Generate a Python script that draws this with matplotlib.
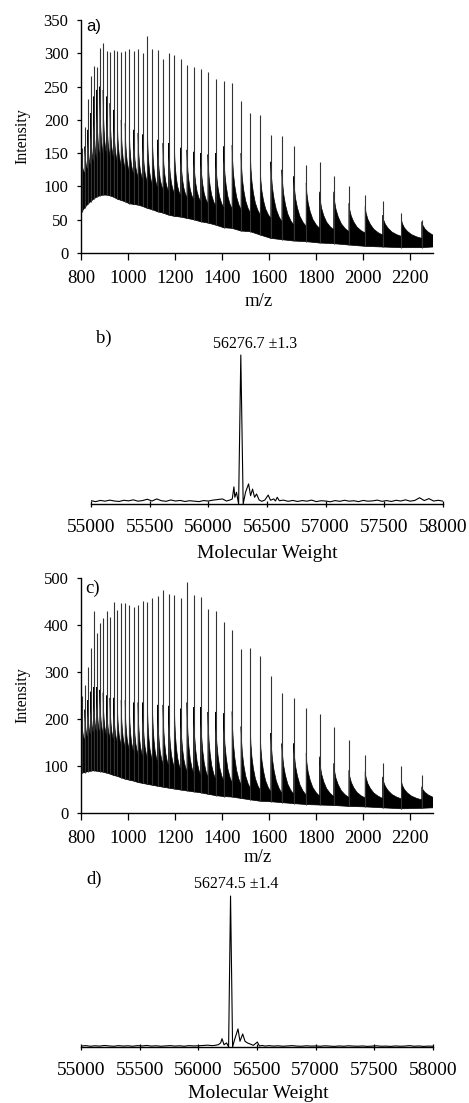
import numpy as np
import matplotlib
matplotlib.use("Agg")
import matplotlib.pyplot as plt

plt.rcParams['font.family'] = ['Liberation Serif', 'DejaVu Serif']

# ---------------- data ----------------
# charge-state peak positions (m/z) of the ESI spectra, z = 71 ... 24
mz_peaks = [793.6, 804.0, 816.6, 828.6, 840.9, 853.7, 866.8, 880.3, 894.3, 908.7,
            923.6, 939.0, 954.8, 971.3, 988.3, 1005.9, 1024.2, 1043.2, 1062.8, 1083.3,
            1104.5, 1126.5, 1149.5, 1173.4, 1198.4, 1224.4, 1251.6, 1280.0, 1309.8, 1340.9,
            1373.6, 1407.9, 1444.0, 1482.0, 1522.0, 1564.2, 1608.9, 1656.2, 1706.4, 1759.6,
            1816.4, 1876.9, 1941.6, 2010.9, 2085.3, 2165.5, 2252.1, 2345.9]

# panel a: spike top, shoulder (top of dense part), tail end, lower envelope
a_top = [150, 158, 190, 232, 266, 281, 280, 308, 315, 304,
         302, 305, 303, 302, 304, 307, 304, 306, 300, 326,
         306, 305, 292, 300, 298, 292, 283, 280, 276, 272,
         262, 258, 256, 228, 210, 207, 178, 176, 160, 132,
         136, 115, 101, 87, 78, 60, 50, 45]
a_shoulder = [130, 140, 160, 185, 210, 235, 245, 250, 245, 235,
              225, 215, 205, 200, 195, 190, 185, 180, 178, 185,
              175, 170, 165, 165, 160, 158, 155, 152, 150, 148,
              150, 160, 162, 150, 147, 125, 137, 125, 115, 105,
              92, 92, 75, 70, 57, 50, 47, 40]
a_tail = [115, 120, 125, 130, 135, 140, 145, 148, 148, 146,
          142, 137, 132, 127, 122, 118, 114, 110, 106, 102,
          98, 95, 92, 89, 86, 83, 80, 77, 74, 71,
          68, 66, 65, 60, 57, 52, 47, 42, 40, 37,
          35, 32, 30, 27, 25, 22, 22, 20]
a_low = [60, 62, 68, 73, 77, 81, 84, 86, 87, 87,
         86, 84, 81, 79, 77, 74, 73, 72, 70, 67,
         65, 62, 60, 57, 55, 54, 52, 50, 47, 45,
         42, 38, 37, 33, 32, 27, 22, 20, 18, 17,
         15, 14, 12, 10, 9, 8, 8, 10]

# panel c
c_top = [230, 248, 272, 311, 352, 429, 383, 404, 415, 430,
         418, 450, 432, 447, 447, 443, 438, 442, 452, 450,
         457, 461, 474, 466, 464, 458, 491, 463, 460, 433,
         429, 407, 389, 350, 352, 333, 291, 256, 245, 223,
         210, 184, 155, 123, 106, 101, 81, 70]
c_shoulder = [190, 200, 220, 240, 258, 268, 268, 262, 256, 250,
              245, 245, 240, 240, 240, 238, 235, 235, 235, 235,
              235, 230, 230, 228, 225, 222, 235, 225, 225, 215,
              215, 212, 216, 184, 175, 165, 170, 148, 148, 127,
              120, 106, 91, 88, 77, 67, 56, 50]
c_tail = [150, 155, 160, 165, 168, 170, 170, 168, 165, 160,
          155, 150, 145, 140, 135, 130, 125, 120, 116, 112,
          108, 104, 100, 96, 92, 88, 84, 80, 76, 72,
          68, 64, 60, 52, 48, 45, 42, 40, 38, 36,
          35, 33, 32, 31, 30, 28, 28, 28]
c_low = [85, 85, 86, 88, 89, 90, 89, 88, 87, 85,
         83, 80, 78, 75, 72, 70, 68, 65, 63, 61,
         59, 57, 55, 53, 51, 49, 47, 45, 43, 40,
         37, 35, 34, 31, 28, 25, 24, 22, 20, 18,
         17, 16, 14, 13, 11, 9, 10, 12]

# deconvolved spectra (relative intensity)
b_mw = [55000, 55040, 55080, 55120, 55160, 55200, 55240, 55280, 55320, 55360,
        55400, 55440, 55480, 55520, 55560, 55600, 55640, 55680, 55720, 55760,
        55800, 55840, 55880, 55920, 55960, 56000, 56040, 56080, 56120, 56155,
        56185, 56204, 56218, 56226, 56240, 56258, 56276.7, 56297, 56317, 56343,
        56360, 56377, 56394, 56411, 56433, 56456, 56482, 56510, 56530, 56558,
        56572, 56587, 56605, 56640, 56680, 56720, 56760, 56800, 56840, 56880,
        56920, 56960, 57000, 57040, 57080, 57120, 57160, 57200, 57240, 57280,
        57320, 57360, 57400, 57440, 57480, 57520, 57560, 57600, 57640, 57680,
        57720, 57760, 57800, 57840, 57880, 57920, 57960, 58000]
b_int = [2.2, 1.6, 2.4, 1.9, 2.6, 2.0, 1.7, 2.5, 2.1, 2.8,
         1.9, 2.3, 3.2, 2.0, 3.4, 2.2, 1.8, 2.7, 2.0, 2.4,
         1.7, 2.2, 1.9, 1.6, 2.3, 2.0, 2.6, 3.0, 3.4, 2.0,
         2.7, 3.4, 11.5, 4.5, 7.9, 0.0, 100.0, 0.0, 7.9, 13.5,
         5.6, 10.0, 4.5, 6.7, 2.7, 1.8, 2.7, 6.0, 2.5, 3.4,
         2.0, 4.5, 2.2, 2.6, 1.8, 2.4, 1.7, 2.3, 1.9, 2.6,
         1.6, 2.2, 2.0, 1.5, 2.3, 1.8, 2.5, 1.9, 2.2, 1.6,
         2.4, 1.9, 2.1, 2.6, 1.8, 2.3, 1.7, 2.5, 2.0, 2.8,
         1.9, 2.4, 4.2, 2.3, 3.6, 2.0, 2.5, 1.9]

d_mw = [55000, 55040, 55080, 55120, 55160, 55200, 55240, 55280, 55320, 55360,
        55400, 55440, 55480, 55520, 55560, 55600, 55640, 55680, 55720, 55760,
        55800, 55840, 55880, 55920, 55960, 56000, 56040, 56080, 56120, 56142,
        56170, 56190, 56202, 56219, 56241, 56258, 56274.5, 56292, 56309, 56338,
        56355, 56378, 56398, 56418, 56441, 56469, 56503, 56520, 56545, 56570,
        56600, 56640, 56680, 56720, 56760, 56800, 56840, 56880, 56920, 56960,
        57000, 57040, 57080, 57120, 57160, 57200, 57240, 57280, 57320, 57360,
        57400, 57440, 57480, 57520, 57560, 57600, 57640, 57680, 57720, 57760,
        57800, 57840, 57880, 57920, 57960, 58000]
d_int = [0.6, 0.9, 0.5, 0.8, 0.6, 1.0, 0.7, 0.5, 0.9, 0.6,
         0.8, 0.5, 0.9, 0.7, 1.0, 0.6, 0.8, 0.5, 0.7, 0.9,
         0.6, 0.8, 0.5, 0.9, 0.7, 0.8, 1.0, 1.2, 0.9, 1.1,
         1.5, 2.7, 5.5, 1.5, 2.7, 0.0, 100.0, 0.0, 4.9, 12.0,
         3.8, 8.6, 3.8, 2.7, 2.0, 1.1, 3.3, 0.7, 1.0, 0.6,
         0.9, 0.6, 0.8, 0.5, 0.7, 0.9, 0.6, 0.5, 0.8, 0.6,
         0.7, 0.5, 0.8, 0.6, 0.4, 0.7, 0.5, 0.8, 0.6, 0.5,
         0.7, 0.4, 0.6, 0.8, 0.5, 0.6, 0.4, 0.7, 0.5, 0.6,
         0.9, 0.5, 0.7, 0.4, 0.6, 0.5]

a_ticks = [800, 1000, 1200, 1400, 1600, 1800, 2000, 2200]
a_yticks = [0, 50, 100, 150, 200, 250, 300, 350]
c_yticks = [0, 100, 200, 300, 400, 500]
mw_ticks = [55000, 55500, 56000, 56500, 57000, 57500, 58000]

# ---------------- style / layout ----------------
W, H = 469, 1103
fig = plt.figure(figsize=(W / 100, H / 100), dpi=100)

# shape of the adduct tail that follows each charge-state spike (style only)
TAIL_FRAC = [0.0, 0.05, 0.15, 0.3, 0.5, 0.75, 1.0]
TAIL_SHAPE = [1.0, 0.78, 0.56, 0.37, 0.2, 0.08, 0.0]


def px_axes(left, top, right, bottom):
    return fig.add_axes([left / W, 1 - bottom / H, (right - left) / W, (bottom - top) / H])


def ftext(x, y, s, **kw):
    kw.setdefault('ha', 'center')
    kw.setdefault('va', 'center')
    fig.text(x / W, 1 - y / H, s, **kw)


def draw_esi(ax, pos, top, shoulder, tail, low):
    for i in range(len(pos) - 1):
        p0, p1 = pos[i], pos[i + 1]
        gap = p1 - p0
        xs = [p0]
        ys = [low[i]]
        for f, s in zip(TAIL_FRAC, TAIL_SHAPE):
            xs.append(p0 + f * gap)
            ys.append(tail[i] + (shoulder[i] - tail[i]) * s)
        xs.append(p1)
        ys.append(low[i + 1])
        ax.fill(xs, ys, color='black', lw=0.5, ec='black')
    ax.vlines(pos, low, top, color='0.2', lw=0.8)


def style_esi(ax, ymax, yticks):
    ax.set_xlim(800, 2300)
    ax.set_ylim(0, ymax)
    ax.set_xticks(a_ticks)
    ax.set_yticks(yticks)
    for s in ('top', 'right'):
        ax.spines[s].set_visible(False)
    for s in ('left', 'bottom'):
        ax.spines[s].set_linewidth(1.0)
    ax.tick_params(axis='x', direction='out', length=5, width=0.9, labelsize=13.5, pad=7)
    ax.tick_params(axis='y', direction='out', length=3, width=0.9, labelsize=12, pad=6)


def style_mw(ax, ymax):
    ax.set_xlim(55000, 58000)
    ax.set_ylim(0, ymax)
    ax.set_xticks(mw_ticks)
    ax.set_yticks([])
    for s in ('top', 'right', 'left'):
        ax.spines[s].set_visible(False)
    ax.spines['bottom'].set_linewidth(1.0)
    ax.tick_params(axis='x', direction='inout', length=5, width=0.9, labelsize=14, pad=8)


# panel a
axA = px_axes(81, 20, 433, 253)
draw_esi(axA, mz_peaks, a_top, a_shoulder, a_tail, a_low)
style_esi(axA, 350, a_yticks)

# panel b
axB = px_axes(91, 350, 443, 504)
axB.plot(b_mw, b_int, color='black', lw=0.8)
style_mw(axB, 103.4)

# panel c
axC = px_axes(81, 578, 433, 813)
draw_esi(axC, mz_peaks, c_top, c_shoulder, c_tail, c_low)
style_esi(axC, 500, c_yticks)

# panel d
axD = px_axes(81, 890, 433, 1047)
axD.plot(d_mw, d_int, color='black', lw=0.8)
style_mw(axD, 104)

# texts
ftext(86, 26, 'a)', ha='left', fontsize=12, family=['Liberation Sans', 'DejaVu Sans'])
ftext(96, 338, 'b)', ha='left', fontsize=13.5)
ftext(85, 588, 'c)', ha='left', fontsize=13.5)
ftext(86, 879, 'd)', ha='left', fontsize=13.5)
ftext(255, 344, '56276.7 \u00b11.3', fontsize=11.5)
ftext(236, 884, '56274.5 \u00b11.4', fontsize=11.5)
ftext(22, 136, 'Intensity', rotation=90, fontsize=11.5)
ftext(22, 695.5, 'Intensity', rotation=90, fontsize=11.5)
ftext(259, 302, 'm/z', fontsize=13.5)
ftext(258, 857, 'm/z', fontsize=13.5)
ftext(267, 553, 'Molecular Weight', fontsize=14)
ftext(258, 1094, 'Molecular Weight', fontsize=14)

fig.savefig('out.png', dpi=100)
